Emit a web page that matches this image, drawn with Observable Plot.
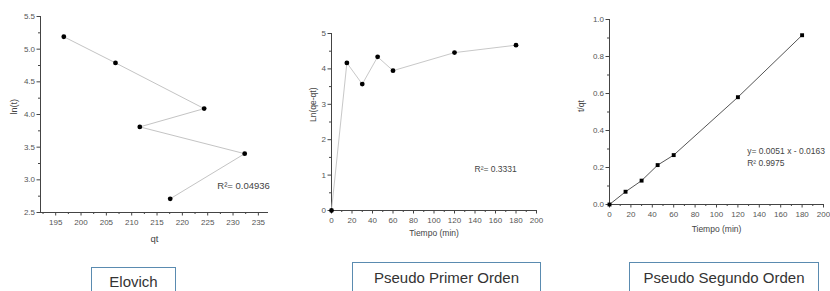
<!DOCTYPE html>
<html>
<head>
<meta charset="utf-8">
<script src="https://cdn.jsdelivr.net/npm/d3@7"></script>
<script src="https://cdn.jsdelivr.net/npm/@observablehq/plot@0.6"></script>
<style>
  html, body { margin: 0; padding: 0; background: #fff; }
  #wrap { position: relative; width: 830px; height: 291px; overflow: hidden; background: #fff; font-family: "Liberation Sans", Arial, sans-serif; }
  .panel { position: absolute; top: 0; }
  .box { position: absolute; box-sizing: border-box; border: 1.5px solid #5a8bb0; background: #fff; color: #333; font-size: 15px; text-align: center; font-family: "Liberation Sans", Arial, sans-serif; }
</style>
</head>
<body>
<div id="wrap"></div>
<script>
// ---- data ----
const time = [15, 30, 45, 60, 120, 180];
const qt = [217.6, 232.3, 211.6, 224.3, 206.8, 196.6];
const lnT = [2.71, 3.40, 3.81, 4.09, 4.79, 5.19];
const time0 = [0, 15, 30, 45, 60, 120, 180];
const lnQeQt = [0, 4.17, 3.57, 4.34, 3.95, 4.46, 4.67];
const tOverQt = [0, 0.069, 0.129, 0.213, 0.267, 0.580, 0.915];
const titles = ["Elovich", "Pseudo Primer Orden", "Pseudo Segundo Orden"];
const elovichNote = ["R²= 0.04936"];
const primerNote = ["R²= 0.3331"];
const segundoNote = ["y= 0.0051 x - 0.0163", "R² 0.9975"];

const elovich = time.map((t, i) => ({qt: qt[i], lnt: lnT[i]})).reverse();
const primer = time0.map((t, i) => ({t, v: lnQeQt[i]}));
const segundo = time0.map((t, i) => ({t, v: tOverQt[i]}));

const wrap = document.getElementById("wrap");
const FONT = "Liberation Sans, Arial, sans-serif";
const AX = "#444";

function axes(xDom, yDom, xMajor, xMinor, yMajor, yMinor, yFmt) {
  return [
    Plot.axisX({ticks: xMinor, tickSize: 2, text: null, stroke: AX, label: null}),
    Plot.axisX({ticks: xMajor, tickSize: 3.5, tickPadding: 3, stroke: AX, fill: "#555", fontSize: 8, label: null, tickFormat: d => String(d)}),
    Plot.axisY({ticks: yMinor, tickSize: 2, text: null, stroke: AX, label: null}),
    Plot.axisY({ticks: yMajor, tickSize: 3.5, tickPadding: 2, stroke: AX, fill: "#555", fontSize: 8, label: null, tickFormat: yFmt}),
    Plot.ruleY([yDom[0]], {stroke: AX, strokeWidth: 1}),
    Plot.ruleX([xDom[0]], {stroke: AX, strokeWidth: 1})
  ];
}

function addPanel(left, svg) {
  svg.classList.add("panel");
  svg.style.left = left + "px";
  wrap.appendChild(svg);
}

// Panel 1: Elovich
{
  const xDom = [192, 237], yDom = [2.5, 5.5];
  const p = Plot.plot({
    width: 280, height: 245,
    marginLeft: 40, marginRight: 12, marginTop: 16, marginBottom: 33,
    style: {fontFamily: FONT, background: "transparent", overflow: "visible"},
    x: {domain: xDom}, y: {domain: yDom},
    marks: [
      ...axes(xDom, yDom, d3.range(195, 236, 5), d3.range(192.5, 237, 2.5).filter(v => v % 5 !== 0), d3.range(2.5, 5.51, 0.5), d3.range(2.75, 5.5, 0.5), d => d.toFixed(1)),
      Plot.line(elovich, {x: "qt", y: "lnt", stroke: "#c4c4c4", strokeWidth: 1}),
      Plot.dot(elovich, {x: "qt", y: "lnt", r: 2.4, fill: "#000", stroke: "none"}),
      Plot.text(elovichNote, {x: 226.9, y: 2.9, text: d => d, textAnchor: "start", fontSize: 9.5, fill: "#444"}),
      Plot.text(["qt"], {frameAnchor: "bottom", lineAnchor: "middle", dy: 26, text: d => d, fontSize: 9.5, fill: "#444"}),
      Plot.text(["ln(t)"], {frameAnchor: "left", dx: -26, rotate: -90, text: d => d, fontSize: 9, fill: "#444"})
    ]
  });
  addPanel(0, p);
}

// Panel 2: Pseudo primer orden
{
  const xDom = [0, 200], yDom = [0, 5];
  const p = Plot.plot({
    width: 280, height: 245,
    marginLeft: 51, marginRight: 24, marginTop: 33, marginBottom: 35,
    style: {fontFamily: FONT, background: "transparent", overflow: "visible"},
    x: {domain: xDom}, y: {domain: yDom},
    marks: [
      ...axes(xDom, yDom, d3.range(0, 201, 20), d3.range(10, 200, 20), d3.range(0, 6, 1), d3.range(0.5, 5, 1), d => String(d)),
      Plot.line(primer, {x: "t", y: "v", stroke: "#c8c8c8", strokeWidth: 1}),
      Plot.dot(primer, {x: "t", y: "v", r: 2.4, fill: "#000", stroke: "none"}),
      Plot.text(primerNote, {x: 139.5, y: 1.16, text: d => d, textAnchor: "start", fontSize: 8.5, fill: "#444"}),
      Plot.text(["Tiempo (min)"], {frameAnchor: "bottom", lineAnchor: "middle", dy: 23, text: d => d, fontSize: 8.5, fill: "#444"}),
      Plot.text(["Ln(qe-qt)"], {frameAnchor: "left", dx: -18, rotate: -90, text: d => d, fontSize: 8.5, fill: "#444"})
    ]
  });
  addPanel(280, p);
}

// Panel 3: Pseudo segundo orden
{
  const xDom = [0, 200], yDom = [0, 1];
  const p = Plot.plot({
    width: 270, height: 245,
    marginLeft: 49, marginRight: 7, marginTop: 19, marginBottom: 41,
    style: {fontFamily: FONT, background: "transparent", overflow: "visible"},
    x: {domain: xDom}, y: {domain: yDom},
    marks: [
      ...axes(xDom, yDom, d3.range(0, 201, 20), d3.range(10, 200, 20), d3.range(0, 1.01, 0.2), d3.range(0.1, 1, 0.2), d => d.toFixed(1)),
      Plot.line(segundo, {x: "t", y: "v", stroke: "#555", strokeWidth: 1}),
      Plot.dot(segundo, {x: "t", y: "v", r: 2.2, symbol: "square", fill: "#000", stroke: "none"}),
      Plot.text(segundoNote, {x: 128.7, y: (d, i) => [0.286, 0.222][i], text: d => d, textAnchor: "start", fontSize: 8.5, fill: "#444"}),
      Plot.text(["Tiempo (min)"], {frameAnchor: "bottom", lineAnchor: "middle", dy: 25, text: d => d, fontSize: 8.5, fill: "#444"}),
      Plot.text(["t/qt"], {frameAnchor: "left", dx: -28, rotate: -90, text: d => d, fontSize: 8.5, fill: "#444"})
    ]
  });
  addPanel(560, p);
}

// caption boxes
const boxes = [
  {left: 91, top: 267, width: 85, pad: 5},
  {left: 352, top: 262, width: 189, pad: 6},
  {left: 629, top: 262, width: 190, pad: 6}
];
boxes.forEach((b, i) => {
  const d = document.createElement("div");
  d.className = "box";
  d.style.left = b.left + "px";
  d.style.top = b.top + "px";
  d.style.width = b.width + "px";
  d.style.height = "40px";
  d.style.paddingTop = b.pad + "px";
  d.textContent = titles[i];
  wrap.appendChild(d);
});
</script>
</body>
</html>
